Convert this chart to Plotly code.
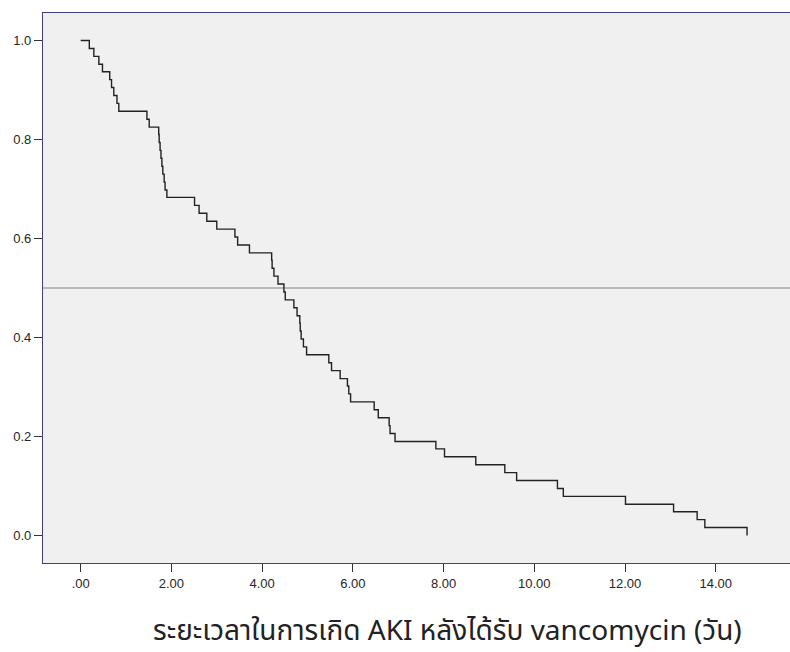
import plotly.graph_objects as go

# Kaplan-Meier step data (time in days, cumulative survival)
time = [0.00, 0.19, 0.29, 0.40, 0.48, 0.64, 0.68, 0.73, 0.80, 0.84,
        1.46, 1.51, 1.72, 1.73, 1.75, 1.77, 1.79, 1.81, 1.84, 1.86, 1.90,
        2.51, 2.61, 2.78, 3.00, 3.40, 3.46, 3.72, 4.21, 4.22, 4.26, 4.35,
        4.48, 4.51, 4.70, 4.77, 4.83, 4.84, 4.86, 4.91, 4.98,
        5.47, 5.53, 5.72, 5.88, 5.91, 5.95, 6.47, 6.56, 6.80, 6.82, 6.93,
        7.83, 8.02, 8.71, 9.35, 9.61, 10.51, 10.64, 12.01, 13.07, 13.59,
        13.76, 14.69]
survival = [1.000, 0.984, 0.968, 0.952, 0.937, 0.921, 0.905, 0.889, 0.873, 0.857,
            0.841, 0.825, 0.810, 0.794, 0.778, 0.762, 0.746, 0.730, 0.714, 0.698, 0.683,
            0.667, 0.651, 0.635, 0.619, 0.603, 0.587, 0.571, 0.556, 0.540, 0.524, 0.508,
            0.492, 0.476, 0.460, 0.444, 0.429, 0.413, 0.397, 0.381, 0.365,
            0.349, 0.333, 0.317, 0.302, 0.286, 0.270, 0.254, 0.238, 0.222, 0.206, 0.190,
            0.175, 0.159, 0.143, 0.127, 0.111, 0.095, 0.079, 0.063, 0.048, 0.032,
            0.016, 0.000]

x_tick_vals = [0, 2, 4, 6, 8, 10, 12, 14]
x_tick_text = [".00", "2.00", "4.00", "6.00", "8.00", "10.00", "12.00", "14.00"]
y_tick_vals = [0.0, 0.2, 0.4, 0.6, 0.8, 1.0]
y_tick_text = ["0.0", "0.2", "0.4", "0.6", "0.8", "1.0"]
reference_level = 0.5
x_title = "ระยะเวลาในการเกิด AKI หลังได้รับ vancomycin (วัน)"

AXIS_COLOR = "#41417f"
TICK_FONT = dict(family="Liberation Sans, Arial, sans-serif", size=13, color="#262626")

fig = go.Figure()
fig.add_trace(go.Scatter(
    x=time, y=survival, mode="lines", line_shape="hv",
    line=dict(color="#222222", width=1.4), showlegend=False, hoverinfo="skip"))

fig.add_shape(type="line", xref="paper", yref="y", x0=0, x1=1,
              y0=reference_level, y1=reference_level,
              line=dict(color="#a9a9a9", width=1.5), layer="below")

fig.add_annotation(text=x_title, xref="paper", yref="paper", x=0.542, y=-0.124,
                   xanchor="center", yanchor="middle", showarrow=False,
                   font=dict(family="Noto Sans Thai, Noto Sans, sans-serif",
                             size=28, color="#222222"))

fig.update_layout(
    width=790, height=652,
    margin=dict(l=43, r=0, t=13, b=89),
    paper_bgcolor="white", plot_bgcolor="#f0f0f0",
    font=TICK_FONT,
    xaxis=dict(range=[-0.831, 15.637], tickvals=x_tick_vals, ticktext=x_tick_text,
               showgrid=False, zeroline=False, showline=True, linecolor=AXIS_COLOR,
               linewidth=1.3, mirror=True, ticks="outside", ticklen=8, tickwidth=1.3,
               tickcolor="#333333", tickfont=TICK_FONT),
    yaxis=dict(range=[-0.0556, 1.0556], tickvals=y_tick_vals, ticktext=y_tick_text,
               showgrid=False, zeroline=False, showline=True, linecolor=AXIS_COLOR,
               linewidth=1.3, mirror=False, ticks="outside", ticklen=8, tickwidth=1.3,
               tickcolor="#333333", tickfont=TICK_FONT),
)

fig.write_html("out.html")
